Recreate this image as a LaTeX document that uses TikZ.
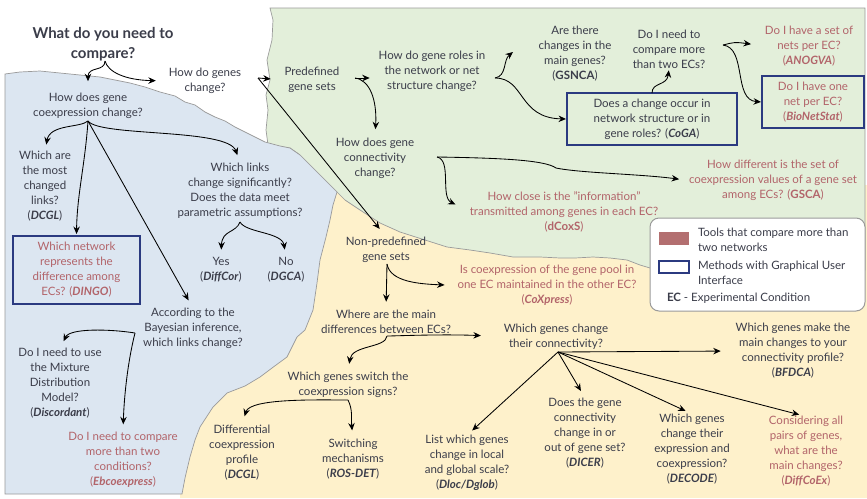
\documentclass[tikz,border=0pt]{standalone}
\usepackage{fontspec}
\setmainfont{Lato}
\usetikzlibrary{arrows.meta}
\definecolor{txt}{HTML}{3B3D4A}
\definecolor{redt}{HTML}{B2646A}
\definecolor{navy}{HTML}{2B3A80}
\definecolor{bluebg}{HTML}{DCE6F1}
\definecolor{greenbg}{HTML}{E3EFDA}
\definecolor{yellowbg}{HTML}{FEF1CB}
\definecolor{edgegray}{HTML}{9A9A9A}
\definecolor{swatch}{HTML}{B36F70}
\newcommand\toolname[1]{\textbf{\textit{#1}}}
\begin{document}
\begin{tikzpicture}[x=1pt,y=-1pt,
  q/.style={font=\fontsize{11.5}{15}\selectfont, text=txt, align=center, inner sep=0pt, outer sep=0pt},
  rq/.style={q, text=redt},
  gbox/.style={draw=navy, line width=1.3pt},
  titlef/.style={font=\fontsize{15}{20}\selectfont\bfseries, text=txt, align=center, inner sep=0pt},
  arr/.style={draw=black, line width=0.85pt, -{Stealth[length=7.5pt,width=6.5pt,inset=2.5pt]}},
  region/.style={draw=edgegray, line width=0.7pt}]
\useasboundingbox (0,0) rectangle (867,498);
\fill[white] (0,0) rectangle (867,498);
% yellow region
\fill[yellowbg] (180,185) rectangle (867,498);
% green region
\filldraw[region, fill=greenbg] (270,8) -- (865,8) -- (865,270) -- (650,268) -- (640,265) -- (627,260) -- (610,258) -- (593,257) -- (575,258) -- (560,258) -- (540,257) -- (513,257) -- (490,253) -- (470,250) -- (447,247) -- (425,240) -- (400,232) -- (380,223) -- (360,210) -- (345,200) -- (337,192) -- (330,185) -- (315,170) -- (300,155) -- (290,148) -- (275,146) -- (268,145) -- (266,130) -- (268,110) -- (266,95) -- (270,80) -- (267,60) -- (272,40) -- (273,20) -- cycle;
% blue region
\filldraw[region, fill=bluebg] (5,74) -- (20,72) -- (40,71) -- (60,73) -- (80,75) -- (100,77) -- (115,80) -- (130,83) -- (145,87) -- (160,92) -- (175,96) -- (185,102) -- (195,105) -- (205,112) -- (215,117) -- (225,121) -- (235,127) -- (245,132) -- (255,137) -- (265,142) -- (280,146) -- (290,148) -- (300,155) -- (315,170) -- (330,185) -- (337,192) -- (333,205) -- (330,220) -- (326,237) -- (320,260) -- (317,283) -- (313,310) -- (305,330) -- (297,337) -- (287,357) -- (272,368) -- (260,377) -- (245,386) -- (227,393) -- (213,407) -- (200,427) -- (195,440) -- (190,457) -- (185,478) -- (182,494) -- (5,494) -- cycle;

% nodes
\node[titlef] (title) at (103,44) {What do you need to\\compare?};
\node[q] (hg) at (205,81) {How do genes\\change?};
\node[q] (coexp) at (88,106) {How does gene\\coexpression change?};
\node[q] (most) at (45,186.5) {Which are\\the most\\changed\\links?\\(\toolname{DCGL})};
\node[gbox, rq, minimum width=127pt, minimum height=68pt] (dingo) at (76.5,270) {Which network\\represents the\\difference among\\ECs? (\toolname{DINGO})};
\node[q] (links) at (240,190.5) {Which links\\change significantly?\\Does the data meet\\parametric assumptions?};
\node[q] (yes) at (221,270) {Yes\\(\toolname{DiffCor})};
\node[q] (no) at (286,270) {No\\(\toolname{DGCA})};
\node[q] (bayes) at (193,328.5) {According to the\\Bayesian inference,\\which links change?};
\node[q] (disc) at (60,383.5) {Do I need to use\\the Mixture\\Distribution\\Model?\\(\toolname{Discordant})};
\node[rq] (ebco) at (123,460) {Do I need to compare\\more than two\\conditions?\\(\toolname{Ebcoexpress})};
\node[q] (pre) at (312,80) {Predefined\\gene sets};
\node[q] (roles) at (432,71.5) {How do gene roles in\\the network or net\\structure change?};
\node[q] (gsnca) at (575,54) {Are there\\changes in the\\main genes?\\(\textbf{GSNCA})};
\node[q] (more2) at (669,49) {Do I need to\\compare more\\than two ECs?};
\node[gbox, q, minimum width=170pt, minimum height=52pt] (coga) at (652,119) {Does a change occur in\\network structure or in\\gene roles? (\toolname{CoGA})};
\node[rq] (anogva) at (809,46) {Do I have a set of\\nets per EC?\\(\toolname{ANOGVA})};
\node[gbox, rq, minimum width=102pt, minimum height=52pt] (bionet) at (813,102) {Do I have one\\net per EC?\\(\toolname{BioNetStat})};
\node[q] (conn) at (375,158.5) {How does gene\\connectivity\\change?};
\node[rq] (dcoxs) at (564,211.5) {How close is the "information"\\transmitted among genes in each EC?\\(\textbf{dCoxS})};
\node[rq] (gsca) at (773,180.5) {How different is the set of\\coexpression values of a gene set\\among ECs? (\textbf{GSCA})};
\node[q] (nonpre) at (386,249.5) {Non-predefined\\gene sets};
\node[rq] (coxp) at (547,285.5) {Is coexpression of the gene pool in\\one EC maintained in the other EC?\\(\toolname{CoXpress})};
\node[q] (where) at (386,321.5) {Where are the main\\differences between ECs?};
\node[q] (wgc) at (556,336.5) {Which genes change\\their connectivity?};
\node[q] (switch) at (348,384.5) {Which genes switch the\\coexpression signs?};
\node[q] (diff) at (242,452.5) {Differential\\coexpression\\profile\\(\toolname{DCGL})};
\node[q] (swm) at (353,459.5) {Switching\\mechanisms\\(\toolname{ROS-DET})};
\node[q] (list) at (467,463) {List which genes\\change in local\\and global scale?\\(\toolname{Dloc/Dglob})};
\node[q] (dicer) at (585,433) {Does the gene\\connectivity\\change in or\\out of gene set?\\(\toolname{DICER})};
\node[q] (decode) at (692,449) {Which genes\\change their\\expression and\\coexpression?\\(\toolname{DECODE})};
\node[rq] (diffcoex) at (806,451.5) {Considering all\\pairs of genes,\\what are the\\main changes?\\(\toolname{DiffCoEx})};
\node[q] (bfdca) at (793,351) {Which genes make the\\main changes to your\\connectivity profile?\\(\toolname{BFDCA})};

% legend
\node[draw=edgegray, line width=1pt, fill=white, rounded corners=9pt, minimum width=215pt, minimum height=93pt, inner sep=0pt] (legend) at (757.5,264.5) {};
\node[fill=swatch, minimum width=30pt, minimum height=13pt, inner sep=0pt] (sw1) at (674,238.5) {};
\node[draw=navy, line width=1.3pt, fill=white, minimum width=30pt, minimum height=12pt, inner sep=0pt] (sw2) at (674,267) {};
\node[q, align=left, anchor=west] (lg1) at (698,239.5) {Tools that compare more than\\two networks};
\node[q, align=left, anchor=west] (lg2) at (698,273) {Methods with Graphical User\\Interface};
\node[q, align=left, anchor=west] (lg3) at (667,298) {\textbf{EC} - Experimental Condition};

% branch points
\coordinate (titleout) at (105,61);
\coordinate (hgout) at (258,78);
\coordinate (preout) at (355,78);
\coordinate (rolesout) at (495,78);
\coordinate (m2out) at (723,45);
\coordinate (connout) at (437,157);
\coordinate (coexpout) at (88,121);
\coordinate (linksout) at (240,222);
\coordinate (bayesout) at (135,333);
\coordinate (nonpreout) at (387,264);
\coordinate (whereout) at (387,336);
\coordinate (switchout) at (348,400);
\coordinate (wgcout) at (558,352);
\coordinate (gsnca-in) at (513,52);

% connectors
\draw[arr, shorten >=12pt] (titleout) .. controls (105,72) and (88,66) .. (coexp.north);
\draw[arr, shorten >=13pt] (titleout) .. controls (108,72) and (125,80) .. (hg.west);
\draw[arr, shorten >=14pt] (hgout) -- (pre.west);
\draw[arr, shorten >=10pt] (hgout) -- (nonpre.north);
\draw[arr, shorten >=9pt] (preout) -- (roles.west |- preout);
\draw[arr, shorten >=9pt] (preout) .. controls (370,80) and (377,100) .. (conn.north);
\draw[arr] (rolesout) .. controls (507,76) and (503,60) .. (gsnca-in);
\draw[arr, shorten >=1pt] (rolesout) .. controls (525,78) and (518,118) .. (coga.west);
\draw[arr, shorten >=2pt] (coga.north) .. controls (652,82) and (667,86) .. (more2.south);
\draw[arr, shorten >=14pt] (m2out) .. controls (735,42) .. (anogva.west);
\draw[arr, shorten >=1pt] (m2out) .. controls (747,48) and (733,100) .. (bionet.west);
\draw[arr, shorten >=16pt] (connout) .. controls (452,160) and (440,197) .. (dcoxs.west);
\draw[arr, shorten >=10pt] (connout) .. controls (500,158) and (545,160) .. (556,168) .. controls (580,173) and (640,174) .. (gsca.west);
\draw[arr, shorten >=7pt] (coexpout) .. controls (80,128) and (50,124) .. (most.north);
\draw[arr, shorten >=2pt] (coexpout) .. controls (85,165) and (77,195) .. (dingo.north);
\draw[arr, shorten >=9pt] (coexpout) -- (bayes.north);
\draw[arr, shorten >=8pt] (coexpout) .. controls (100,137) and (228,128) .. (links.north);
\draw[arr, shorten >=8pt] (linksout) .. controls (236,233) and (222,230) .. (yes.north);
\draw[arr, shorten >=8pt] (linksout) .. controls (246,233) and (282,232) .. (no.north);
\draw[arr, shorten >=8pt] (bayesout) .. controls (110,329) and (70,328) .. (disc.north);
\draw[arr, shorten >=8pt] (bayesout) .. controls (127,365) and (124,400) .. (ebco.north);
\draw[arr, shorten >=13pt] (nonpreout) .. controls (390,282) and (420,284) .. (coxp.west);
\draw[arr, shorten >=8pt] (nonpreout) -- (where.north);
\draw[arr, shorten >=23pt] (whereout) .. controls (395,336) and (440,334) .. (wgc.west);
\draw[arr, shorten >=8pt] (whereout) .. controls (386,348) and (352,345) .. (switch.north);
\draw[arr, shorten >=9pt] (switchout) .. controls (318,400) and (250,398) .. (diff.north);
\draw[arr, shorten >=9pt] (switchout) .. controls (353,410) and (351,418) .. (swm.north);
\draw[arr, shorten >=7pt] (wgcout) -- (list.north);
\draw[arr, shorten >=8pt] (wgcout) -- (dicer.north);
\draw[arr, shorten >=7pt] (wgcout) -- (decode.north);
\draw[arr, shorten >=7pt] (wgcout) -- (diffcoex.north);
\draw[arr, shorten >=15pt] (wgcout) -- (bfdca.west);
\end{tikzpicture}
\end{document}
